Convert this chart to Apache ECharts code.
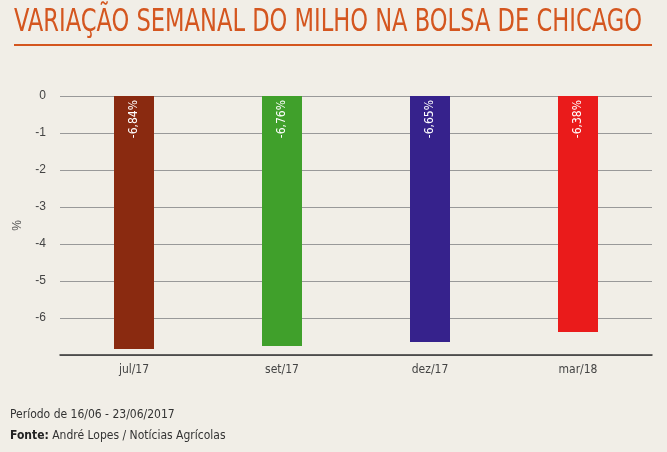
<!DOCTYPE html>
<html><head><meta charset="utf-8">
<script src="https://cdn.jsdelivr.net/npm/echarts@6/dist/echarts.min.js"></script>
<style>html,body{margin:0;padding:0;background:#f1eee7}#c{width:667px;height:452px}</style>
</head><body><div id="c"></div>
<script>
const categories=['jul/17','set/17','dez/17','mar/18'];
const values=[-6.84,-6.76,-6.65,-6.38];
const labels=['-6,84%','-6,76%','-6,65%','-6,38%'];
const colors=['#8a2a10','#40a02b','#36228c','#ea1b1b'];
const yTicks=[0,-1,-2,-3,-4,-5,-6];
const chart=echarts.init(document.getElementById('c'));
chart.setOption({
  backgroundColor:'#f1eee7',
  graphic:[
    {type:'text',x:14,y:7,scaleX:0.785,style:{text:'VARIAÇÃO SEMANAL DO MILHO NA BOLSA DE CHICAGO',font:'32px "DejaVu Sans Condensed",sans-serif',fill:'#d4561f'}},
    {type:'rect',shape:{x:14,y:44,width:638,height:2},style:{fill:'#d4561f'}},
    {type:'text',left:10,top:409,style:{text:'Período de 16/06 - 23/06/2017',font:'12px "DejaVu Sans Condensed",sans-serif',fill:'#333'}},
    {type:'text',left:10,top:430,style:{rich:{b:{font:'bold 12px "DejaVu Sans Condensed",sans-serif',fill:'#222'},n:{font:'12px "DejaVu Sans Condensed",sans-serif',fill:'#333'}},text:'{b|Fonte:}{n| André Lopes / Notícias Agrícolas}'}}
  ],
  grid:{left:60,right:15,top:96,bottom:97},
  xAxis:{type:'category',data:categories,axisTick:{show:false},axisLine:{onZero:false,lineStyle:{color:'#333',width:1.5}},
    axisLabel:{color:'#444',fontSize:12,margin:9,fontFamily:'"DejaVu Sans Condensed",sans-serif'}},
  yAxis:{type:'value',min:-7,max:0,interval:1,name:'%',nameLocation:'middle',nameGap:36,nameTextStyle:{color:'#555',fontSize:12},
    axisLine:{show:false},axisTick:{show:false},
    axisLabel:{color:'#444',fontSize:12,margin:14,formatter:v=>yTicks.includes(v)?String(v):''},
    splitLine:{lineStyle:{color:'#999'}}},
  series:[{type:'bar',barWidth:40,data:values.map((v,i)=>({value:v,itemStyle:{color:colors[i]}})),
    label:{show:true,position:'insideTop',rotate:90,align:'right',verticalAlign:'middle',distance:4,color:'#fff',fontSize:12,
      fontFamily:'"DejaVu Sans Condensed",sans-serif',formatter:p=>labels[p.dataIndex]}}]
});
</script></body></html>
